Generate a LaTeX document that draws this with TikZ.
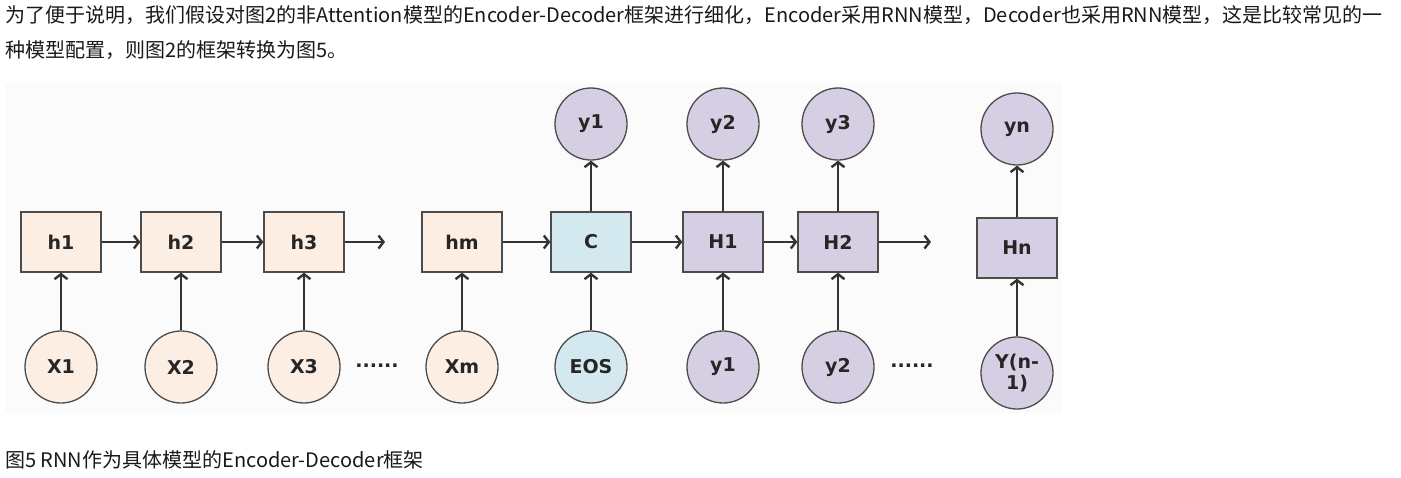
\documentclass[tikz,border=0pt]{standalone}
\usepackage{fontspec}
\setmainfont{DejaVu Sans}
\newfontfamily\cjkfont{Noto Sans CJK SC}
\usetikzlibrary{positioning,arrows.meta}
\definecolor{encfill}{HTML}{FDEEE3}
\definecolor{ctxfill}{HTML}{D3E9EF}
\definecolor{decfill}{HTML}{D6CFE4}
\colorlet{linegray}{black!70}
\colorlet{textgray}{black!85}
\tikzstyle{cell_box}=[minimum height=60pt, minimum width=80pt, draw=linegray, line width=1.3pt, text=textgray, font=\bfseries\fontsize{19}{21}\selectfont]
\tikzstyle{io_circ}=[circle, minimum size=72pt, inner sep=0pt, draw=linegray, line width=1.3pt, text=textgray, align=center, font=\bfseries\fontsize{19}{21}\selectfont]
\tikzstyle{connect arrow}=[-{Straight Barb[length=5pt,width=13pt]}, line width=2.4pt, black!80]
\tikzstyle{page_text}=[anchor=base west, inner sep=0pt, text=black!90, font=\cjkfont\fontsize{20}{22}\selectfont]

\begin{document}
\begin{tikzpicture}[
    x=1pt, y=-1pt,
    node distance=125pt,
    on grid]
\useasboundingbox (0,0) rectangle (1401,477);
\fill[white] (0,0) rectangle (1401,477);
\fill[black!1.5] (5,83) rectangle (1062,413);

% text of the page
\node[page_text] (para1) at (5,22) {为了便于说明，我们假设对图2的非Attention模型的Encoder-Decoder框架进行细化，Encoder采用RNN模型，Decoder也采用RNN模型，这是比较常见的一};
\node[page_text] (para2) at (5,57) {种模型配置，则图2的框架转换为图5。};
\node[page_text] (caption) at (5,467) {图5 RNN作为具体模型的Encoder-Decoder框架};

% encoder
\node[cell_box, fill=encfill] (h1) at (61,242) {h1};
\node[cell_box, fill=encfill] (h2) at (181,242) {h2};
\node[cell_box, fill=encfill] (h3) at (304,242) {h3};
\node[cell_box, fill=encfill] (hm) at (462,242) {hm};
\node[io_circ, fill=encfill, below=of h1] (x1) {X1};
\node[io_circ, fill=encfill, below=of h2] (x2) {X2};
\node[io_circ, fill=encfill, below=of h3] (x3) {X3};
\node[io_circ, fill=encfill, below=of hm] (xm) {Xm};
\coordinate (h3end) at (385,242);
\node[text=textgray, font=\bfseries\fontsize{19}{21}\selectfont] (encdots) at (377,366) {......};

% context
\node[cell_box, fill=ctxfill] (ctx) at (591,242) {C};
\node[io_circ, fill=ctxfill, below=of ctx] (eos) {EOS};
\node[io_circ, fill=decfill, above=118pt of ctx] (out1) {y1};

% decoder
\node[cell_box, fill=decfill] (H1) at (723,242) {H1};
\node[cell_box, fill=decfill] (H2) at (838,242) {H2};
\node[cell_box, fill=decfill] (Hn) at (1017,248) {Hn};
\node[io_circ, fill=decfill, below=of H1] (in1) {y1};
\node[io_circ, fill=decfill, below=of H2] (in2) {y2};
\node[io_circ, fill=decfill, below=of Hn] (inn) {Y(n-\\1)};
\node[io_circ, fill=decfill, above=118pt of H1] (out2) {y2};
\node[io_circ, fill=decfill, above=118pt of H2] (out3) {y3};
\node[io_circ, fill=decfill, above=119pt of Hn] (outn) {yn};
\coordinate (H2end) at (931,242);
\node[text=textgray, font=\bfseries\fontsize{19}{21}\selectfont] (decdots) at (912,366) {......};

\begin{scope}[connect arrow]
    \draw (h1) -- (h2);
    \draw (h2) -- (h3);
    \draw (h3) -- (h3end);
    \draw (hm) -- (ctx);
    \draw (ctx) -- (H1);
    \draw (H1) -- (H2);
    \draw (H2) -- (H2end);

    \draw (x1) -- (h1);
    \draw (x2) -- (h2);
    \draw (x3) -- (h3);
    \draw (xm) -- (hm);
    \draw (eos) -- (ctx);
    \draw (in1) -- (H1);
    \draw (in2) -- (H2);
    \draw (inn) -- (Hn);

    \draw (ctx) -- (out1);
    \draw (H1) -- (out2);
    \draw (H2) -- (out3);
    \draw (Hn) -- (outn);
\end{scope}

\end{tikzpicture}
\end{document}
